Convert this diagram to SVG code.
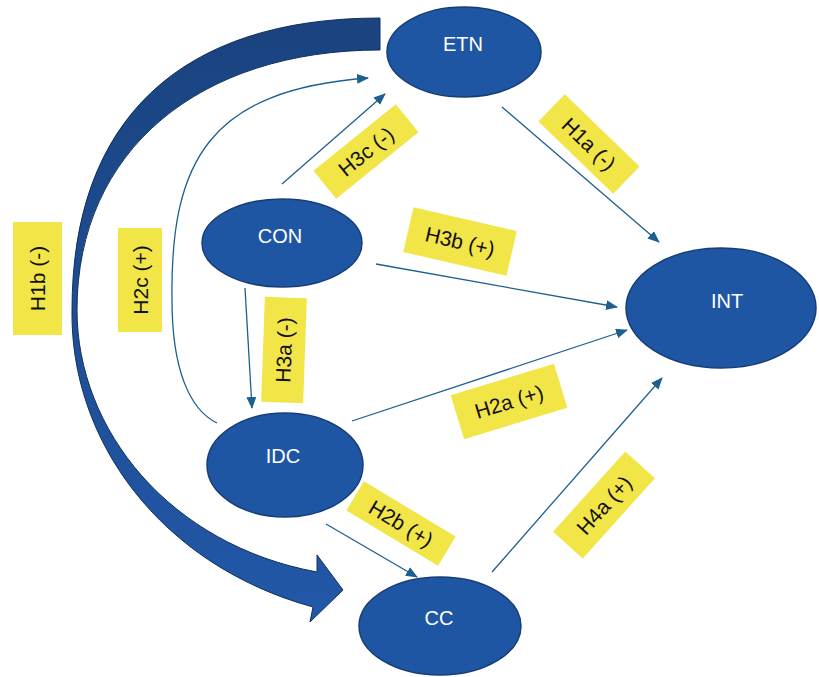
<svg xmlns="http://www.w3.org/2000/svg" width="819" height="677" viewBox="0 0 819 677">
<defs>
<linearGradient id="bigGrad" x1="0" y1="0" x2="0" y2="1">
<stop offset="0" stop-color="#1a437f"/>
<stop offset="1" stop-color="#2258a8"/>
</linearGradient>
<marker id="ah" viewBox="0 0 12 10" refX="11" refY="5" markerWidth="12" markerHeight="10" markerUnits="userSpaceOnUse" orient="auto">
<path d="M0,0 L12,5 L0,10 Z" fill="#1d6090"/>
</marker>
</defs>
<style>
.node ellipse{fill:#1f56a3;stroke:#153e78;stroke-width:1.5}
.node text{fill:#ffffff;font-family:"Liberation Sans",Arial,sans-serif;font-size:20px;text-anchor:middle}
.conn{fill:none;stroke:#1d6090;stroke-width:1.3;marker-end:url(#ah)}
.lbl rect{fill:#f1e548}
.lbl text{fill:#111111;font-family:"Liberation Sans",Arial,sans-serif;font-size:21px;text-anchor:middle;dominant-baseline:central}
</style>
<rect width="819" height="677" fill="#ffffff"/>
<g id="big-arrow">
<path d="M380,18 C180,18 72,120 72,310 C70,440 160,565 313,607 L310,622 L343,590 L317,555 L317,572 C170,545 77,430 77,310 C77,150 200,50 380,50 Z" fill="url(#bigGrad)" stroke="#10305f" stroke-width="1"/>
</g>
<g id="connectors">
<path class="conn" d="M282,184 L385,94"/>
<path class="conn" d="M217,423 C190,410 172,370 172,300 C170,160 210,90 368,78"/>
<path class="conn" d="M245,288 L252,408"/>
<path class="conn" d="M376,264 L617,307"/>
<path class="conn" d="M502,107 L659,242"/>
<path class="conn" d="M352,421 L627,330"/>
<path class="conn" d="M326,524 L417,577"/>
<path class="conn" d="M492,572 L662,378"/>
</g>
<g id="node-ETN" class="node"><ellipse cx="464" cy="52" rx="77" ry="45"/><text x="463" y="51">ETN</text></g>
<g id="node-CON" class="node"><ellipse cx="282" cy="243" rx="80" ry="44"/><text x="280" y="243">CON</text></g>
<g id="node-IDC" class="node"><ellipse cx="285" cy="465" rx="78" ry="52"/><text x="283" y="463">IDC</text></g>
<g id="node-CC" class="node"><ellipse cx="440" cy="626" rx="81" ry="49"/><text x="439" y="625">CC</text></g>
<g id="node-INT" class="node"><ellipse cx="721" cy="308" rx="95" ry="60"/><text x="727" y="308">INT</text></g>
<g id="label-H1b" class="lbl" transform="translate(37.5,278.5) rotate(-90)"><rect x="-56.5" y="-24.5" width="113" height="49"/><text x="0" y="0">H1b (-)</text></g>
<g id="label-H2c" class="lbl" transform="translate(140,280) rotate(-90)"><rect x="-52" y="-22" width="104" height="44"/><text x="0" y="0">H2c (+)</text></g>
<g id="label-H3a" class="lbl" transform="translate(284,350) rotate(-88)"><rect x="-52.5" y="-21" width="105" height="42"/><text x="0" y="0">H3a (-)</text></g>
<g id="label-H3c" class="lbl" transform="translate(366,151.5) rotate(-39)"><rect x="-53" y="-18" width="106" height="36"/><text x="0" y="0">H3c (-)</text></g>
<g id="label-H1a" class="lbl" transform="translate(589,144) rotate(44)"><rect x="-52" y="-19" width="104" height="38"/><text x="0" y="0">H1a (-)</text></g>
<g id="label-H3b" class="lbl" transform="translate(460,241.5) rotate(13)"><rect x="-53" y="-23" width="106" height="46"/><text x="0" y="0">H3b (+)</text></g>
<g id="label-H2a" class="lbl" transform="translate(509,401.5) rotate(-17)"><rect x="-54" y="-23" width="108" height="46"/><text x="0" y="0">H2a (+)</text></g>
<g id="label-H2b" class="lbl" transform="translate(401,523.5) rotate(31)"><rect x="-53.5" y="-17" width="107" height="34"/><text x="0" y="0">H2b (+)</text></g>
<g id="label-H4a" class="lbl" transform="translate(604,505) rotate(-48)"><rect x="-54" y="-20" width="108" height="40"/><text x="0" y="0">H4a (+)</text></g>
</svg>
